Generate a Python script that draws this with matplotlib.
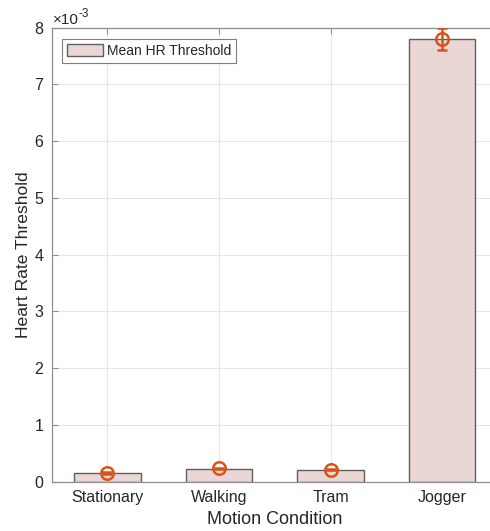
import numpy as np
import matplotlib.pyplot as plt
from matplotlib.ticker import FuncFormatter

plt.rcParams["font.family"] = ["Liberation Sans", "DejaVu Sans"]

conditions = ["Stationary", "Walking", "Tram", "Jogger"]
mean_thr = [0.15e-3, 0.22e-3, 0.20e-3, 7.80e-3]
point_thr = [0.155e-3, 0.235e-3, 0.21e-3, 7.80e-3]
err_thr = [0.012e-3, 0.012e-3, 0.012e-3, 0.19e-3]

axis_col = "#8f8f8f"
text_col = "#262626"
bar_col = "#ebd6d6"
orange = "#d95319"

W, H = 490, 531
fig = plt.figure(figsize=(W / 100, H / 100), dpi=100)
ax = fig.add_axes([51.7 / W, 49.3 / H, 446.1 / W, 454.2 / H])

x = np.arange(1, len(conditions) + 1)
ax.bar(x, mean_thr, width=0.6, color=bar_col, edgecolor="#5f5f5f",
       linewidth=1.0, label="Mean HR Threshold", zorder=2)
ax.errorbar(x, point_thr, yerr=err_thr, fmt="o", color=orange,
            markerfacecolor="none", markeredgewidth=1.8, markersize=9,
            elinewidth=1.8, capsize=3.5, capthick=1.8, zorder=3)

ax.set_xlim(0.5, 4.5)
ax.set_ylim(0, 8e-3)
ax.set_xticks(x)
ax.set_xticklabels(conditions)
ax.set_yticks(np.arange(0, 9) * 1e-3)
ax.yaxis.set_major_formatter(FuncFormatter(lambda v, p: f"{v * 1e3:g}"))

ax.grid(True, color="#e6e6e6", linewidth=0.8, zorder=0)
ax.set_axisbelow(True)
ax.spines["right"].set_visible(False)
for side in ["left", "bottom", "top"]:
    ax.spines[side].set_color(axis_col)
    ax.spines[side].set_linewidth(0.9)
ax.tick_params(direction="in", length=4, width=0.8, color=axis_col,
               labelsize=11.5, labelcolor=text_col, top=True, right=False,
               pad=6)

ax.set_xlabel("Motion Condition", fontsize=13, color=text_col, labelpad=4)
ax.set_ylabel("Heart Rate Threshold", fontsize=12.6, color=text_col)
ax.yaxis.set_label_coords(-0.046, 0.5)

# exponent label above the y axis
base = fig.text(53 / W, 1 - 24 / H, "\u00d710", fontsize=11, color=text_col,
                ha="left", va="baseline")
fig.canvas.draw()
bb = base.get_window_extent()
fig.text((bb.x1 - 0.5) / W, 1 - 17 / H, "-3", fontsize=8.5, color=text_col,
         ha="left", va="baseline")

leg = ax.legend(loc="upper left", bbox_to_anchor=(0.023, 0.975),
                fontsize=10, frameon=True, fancybox=False,
                handlelength=2.6, handleheight=1.0, borderpad=0.35,
                handletextpad=0.3, borderaxespad=0)
leg.get_frame().set_edgecolor("#5f5f5f")
leg.get_frame().set_linewidth(0.8)
for t in leg.get_texts():
    t.set_color(text_col)

fig.savefig("out.png", dpi=100)
